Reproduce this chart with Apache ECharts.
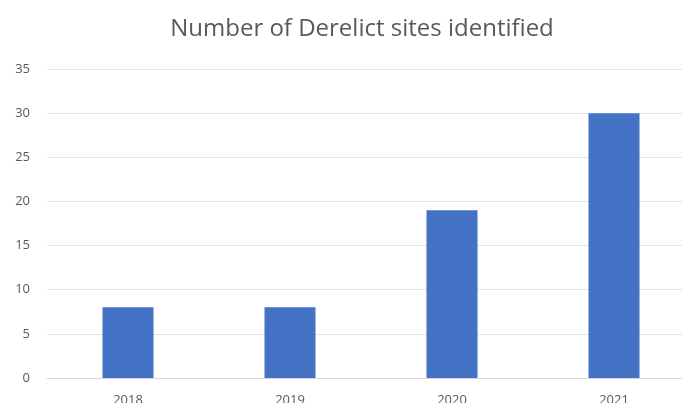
<!DOCTYPE html>
<html>
<head>
<meta charset="utf-8">
<script src="https://cdn.jsdelivr.net/npm/echarts@6/dist/echarts.min.js"></script>
<style>html,body{margin:0;padding:0;background:#fff}#c{width:682px;height:403px}</style>
</head>
<body>
<div id="c"></div>
<script>
var categories = ['2018', '2019', '2020', '2021'];
var siteCounts = [8, 8, 19, 30];
var titleText = 'Number of Derelict sites identified';

var chart = echarts.init(document.getElementById('c'));
chart.setOption({
  animation: false,
  backgroundColor: '#ffffff',
  title: {
    text: titleText,
    left: 357, textAlign: 'center', top: 12,
    textStyle: { fontFamily: 'Open Sans', fontSize: 24, fontWeight: 'normal', color: '#595959' }
  },
  grid: { left: 47, width: 648, top: 69, height: 309, outerBoundsMode: 'none', containLabel: false },
  xAxis: {
    type: 'category',
    data: categories,
    axisLine: { show: true, lineStyle: { color: '#d9d9d9' } },
    axisTick: { show: false },
    axisLabel: { margin: 16, fontFamily: 'Open Sans', fontSize: 13, color: '#595959' }
  },
  yAxis: {
    type: 'value',
    min: 0, max: 35, interval: 5,
    axisLine: { show: false },
    axisTick: { show: false },
    splitLine: { lineStyle: { color: '#e3e3e3' } },
    axisLabel: { margin: 17, fontFamily: 'Open Sans', fontSize: 13, color: '#595959' }
  },
  series: [{
    type: 'bar',
    data: siteCounts,
    barWidth: 51,
    itemStyle: { color: '#4472C4' }
  }]
});
</script>
</body>
</html>
